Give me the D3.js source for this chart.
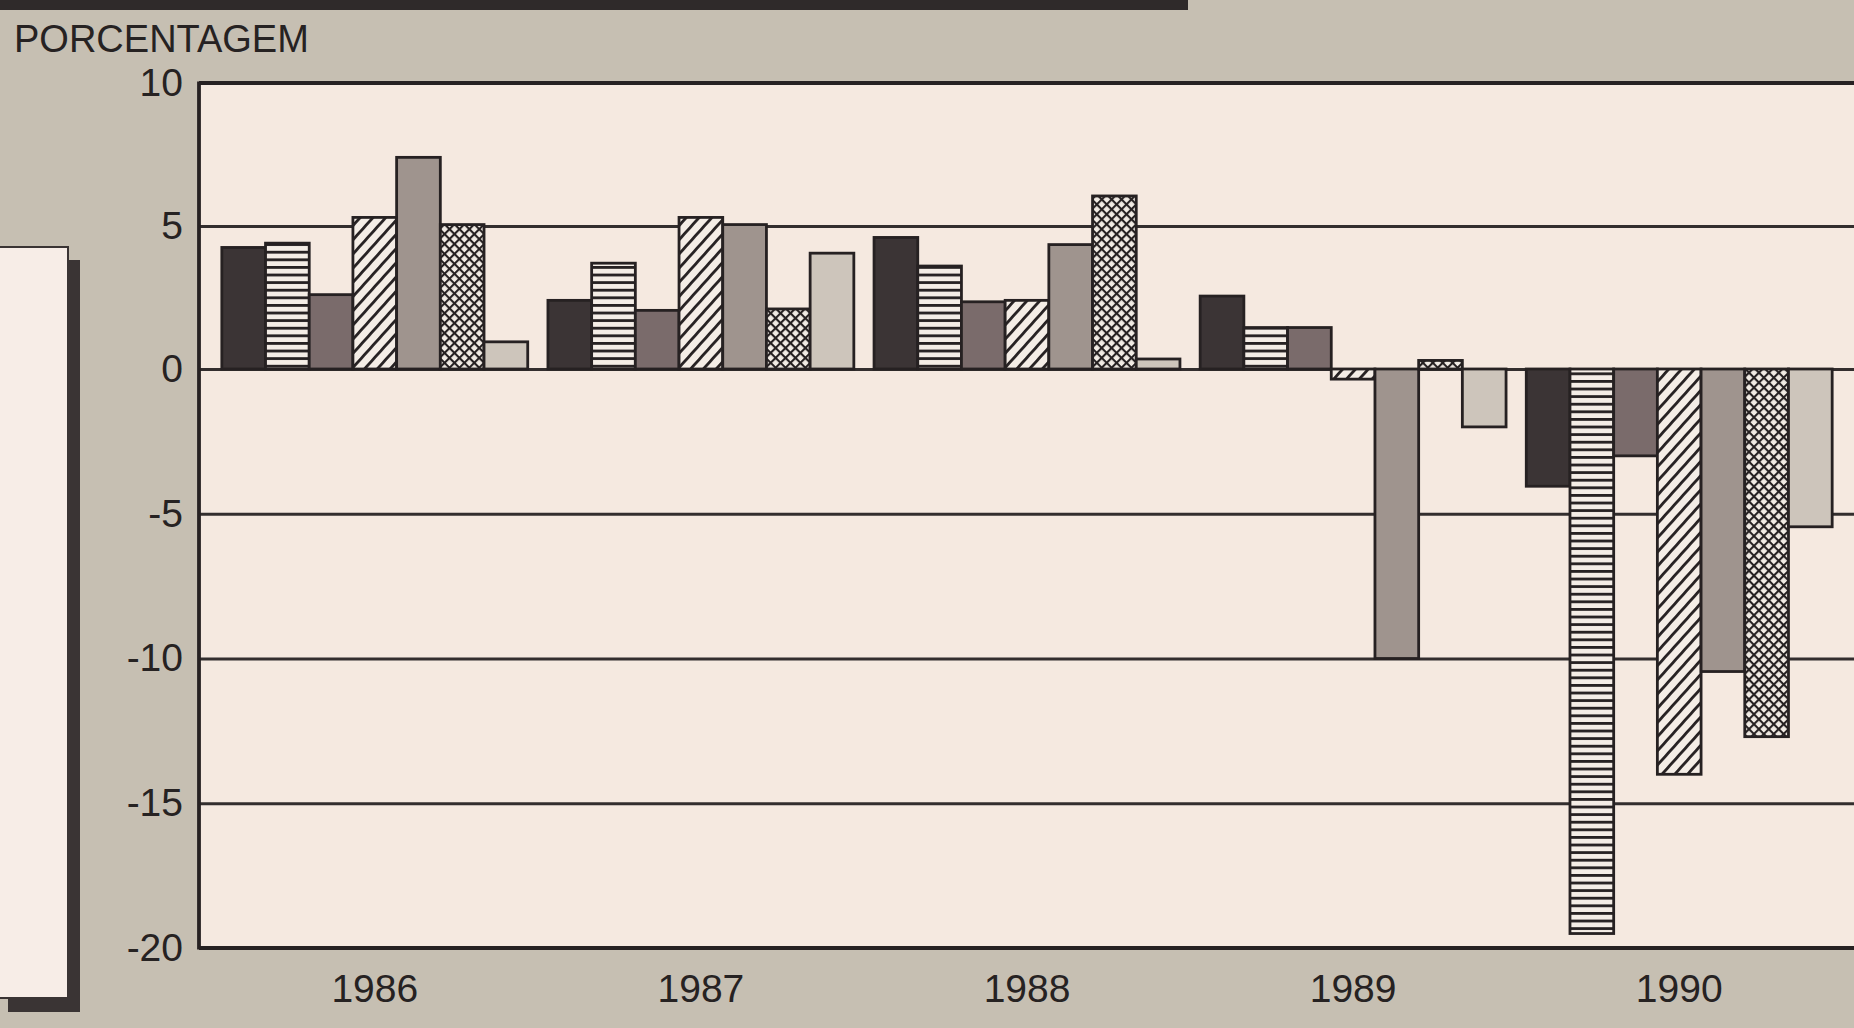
<!DOCTYPE html>
<html>
<head>
<meta charset="utf-8">
<script src="https://cdn.jsdelivr.net/npm/d3@7"></script>
<style>
  body { margin: 0; background: #c6bfb2; overflow: hidden; }
  text { font-family: "Liberation Sans", Arial, sans-serif; fill: #262222; }
</style>
</head>
<body>
<div id="chart-area"></div>
<script>
// DATA: annual variation (%), one array per series, one value per year
const YEARS = ["1986", "1987", "1988", "1989", "1990"]
const SERIES = ["s1", "s2", "s3", "s4", "s5", "s6", "s7"]
const S1 = [4.25, 2.4, 4.6, 2.55, -4.05]
const S2 = [4.4, 3.7, 3.6, 1.45, -19.5]
const S3 = [2.6, 2.05, 2.35, 1.45, -3.0]
const S4 = [5.3, 5.3, 2.4, -0.35, -14.0]
const S5 = [7.4, 5.05, 4.35, -10.0, -10.45]
const S6 = [5.05, 2.1, 6.05, 0.3, -12.7]
const S7 = [0.95, 4.05, 0.35, -2.0, -5.45]
const Y_TICKS = [-20, -15, -10, -5, 0, 5, 10]
const Y_TITLE = "PORCENTAGEM"

const VALUES = [S1, S2, S3, S4, S5, S6, S7]

// SET CANVAS
const WIDTH = 1854
const HEIGHT = 1028
const PLOT = {LEFT: 199, RIGHT: 1855, TOP: 83, BOTTOM: 948}
const INK = "#262122"

const svg = d3.select("#chart-area").append("svg")
    .attr("width", WIDTH)
    .attr("height", HEIGHT)

// --- + fill patterns (stripes, hatching, cross hatching)
const defs = svg.append("defs")

const hStripes = defs.append("pattern")
    .attr("id", "hstripes")
    .attr("patternUnits", "userSpaceOnUse")
    .attr("width", 8).attr("height", 7.6)
hStripes.append("rect").attr("width", 8).attr("height", 7.6).attr("fill", "#f4ede6")
hStripes.append("rect").attr("y", 0).attr("width", 8).attr("height", 2.8).attr("fill", INK)

const diag = defs.append("pattern")
    .attr("id", "diag")
    .attr("patternUnits", "userSpaceOnUse")
    .attr("width", 9.5).attr("height", 9.5)
    .attr("patternTransform", "rotate(42)")
diag.append("rect").attr("width", 9.5).attr("height", 9.5).attr("fill", "#f4ede6")
diag.append("rect").attr("x", 0).attr("width", 2.8).attr("height", 9.5).attr("fill", INK)

const cross = defs.append("pattern")
    .attr("id", "cross")
    .attr("patternUnits", "userSpaceOnUse")
    .attr("width", 7).attr("height", 7)
    .attr("patternTransform", "rotate(45)")
cross.append("rect").attr("width", 7).attr("height", 7).attr("fill", "#f1ebe4")
cross.append("rect").attr("width", 2.1).attr("height", 7).attr("fill", INK)
cross.append("rect").attr("width", 7).attr("height", 2.1).attr("fill", INK)

const FILLS = ["#3b3435", "url(#hstripes)", "#7a6b6b", "url(#diag)",
               "#9f948e", "url(#cross)", "#cdc5bb"]

// --- + page furniture: dark strip on top, cut-off legend box on the left
svg.append("rect")
    .attr("x", 0).attr("y", 0)
    .attr("width", 1188).attr("height", 10)
    .attr("fill", "#2f2a2a")

svg.append("rect") // shadow
    .attr("x", 8).attr("y", 260)
    .attr("width", 72).attr("height", 752)
    .attr("fill", "#3a3434")
svg.append("rect")
    .attr("x", -4).attr("y", 247)
    .attr("width", 72).attr("height", 751)
    .attr("fill", "#f7ede7")
    .attr("stroke", "#3a3434")
    .attr("stroke-width", 2)

// --- + plot background
svg.append("rect")
    .attr("x", PLOT.LEFT).attr("y", PLOT.TOP)
    .attr("width", PLOT.RIGHT - PLOT.LEFT)
    .attr("height", PLOT.BOTTOM - PLOT.TOP)
    .attr("fill", "#f5e9e0")

// SCALES
// scan is slightly uneven: 10 -> 0 spans a little less than 0 -> -10
const y = d3.scaleLinear()
    .domain([-20, 0, 10])
    .range([PLOT.BOTTOM, 369, PLOT.TOP])

const x0 = d3.scaleBand()
    .domain(YEARS)
    .range([PLOT.LEFT, PLOT.RIGHT])
    .paddingInner(0.062)
    .paddingOuter(0.07)

const x1 = d3.scaleBand()
    .domain(SERIES)
    .range([0, x0.bandwidth()])

// --- + y axis: gridlines + labels
const yAxisCall = d3.axisLeft(y)
    .tickValues(Y_TICKS)
    .tickSize(-(PLOT.RIGHT - PLOT.LEFT))
    .tickPadding(16)
    .tickFormat(d => String(d))   // plain hyphen, not the unicode minus

const yAxis = svg.append("g")
    .attr("class", "yaxis")
    .attr("transform", `translate(${PLOT.LEFT}, 0)`)
    .call(yAxisCall)
yAxis.select(".domain").remove()
yAxis.selectAll("line")
    .attr("stroke", "#332e2e")
    .attr("stroke-width", 2.8)
yAxis.selectAll("text")
    .attr("font-size", "39px")
    .attr("fill", "#262222")

// --- + bars
const groups = svg.selectAll(".year-group")
    .data(YEARS)
    .enter()
    .append("g")
    .attr("class", "year-group")
    .attr("transform", d => `translate(${x0(d)}, 0)`)

groups.selectAll("rect")
    .data((d, i) => SERIES.map((s, j) => ({series: s, value: VALUES[j][i], idx: j})))
    .enter()
    .append("rect")
    .attr("x", d => x1(d.series))
    .attr("y", d => y(Math.max(0, d.value)))
    .attr("width", x1.bandwidth())
    .attr("height", d => Math.abs(y(d.value) - y(0)))
    .attr("fill", d => FILLS[d.idx])
    .attr("stroke", INK)
    .attr("stroke-width", 2.8)

// --- + frame (heavier top, bottom and left edges)
const frame = svg.append("g").attr("class", "frame")
frame.append("line")
    .attr("x1", PLOT.LEFT).attr("x2", PLOT.RIGHT)
    .attr("y1", y(10)).attr("y2", y(10))
frame.append("line")
    .attr("x1", PLOT.LEFT).attr("x2", PLOT.RIGHT)
    .attr("y1", y(-20)).attr("y2", y(-20))
frame.append("line")
    .attr("x1", PLOT.LEFT).attr("x2", PLOT.LEFT)
    .attr("y1", y(10) - 1.5).attr("y2", y(-20) + 1.5)
frame.selectAll("line")
    .attr("stroke", "#262122")
    .attr("stroke-width", 3.8)

// --- + x axis (year labels only)
const xAxisCall = d3.axisBottom(x0)
    .tickSize(0)
    .tickPadding(26)
const xAxis = svg.append("g")
    .attr("class", "xaxis")
    .attr("transform", `translate(0, ${PLOT.BOTTOM})`)
    .call(xAxisCall)
xAxis.select(".domain").remove()
xAxis.selectAll("text")
    .attr("font-size", "39px")
    .attr("fill", "#262222")

// --- + y axis title
svg.append("text")
    .attr("x", 14)
    .attr("y", 52)
    .attr("font-size", "38px")
    .text(Y_TITLE)
</script>
</body>
</html>
